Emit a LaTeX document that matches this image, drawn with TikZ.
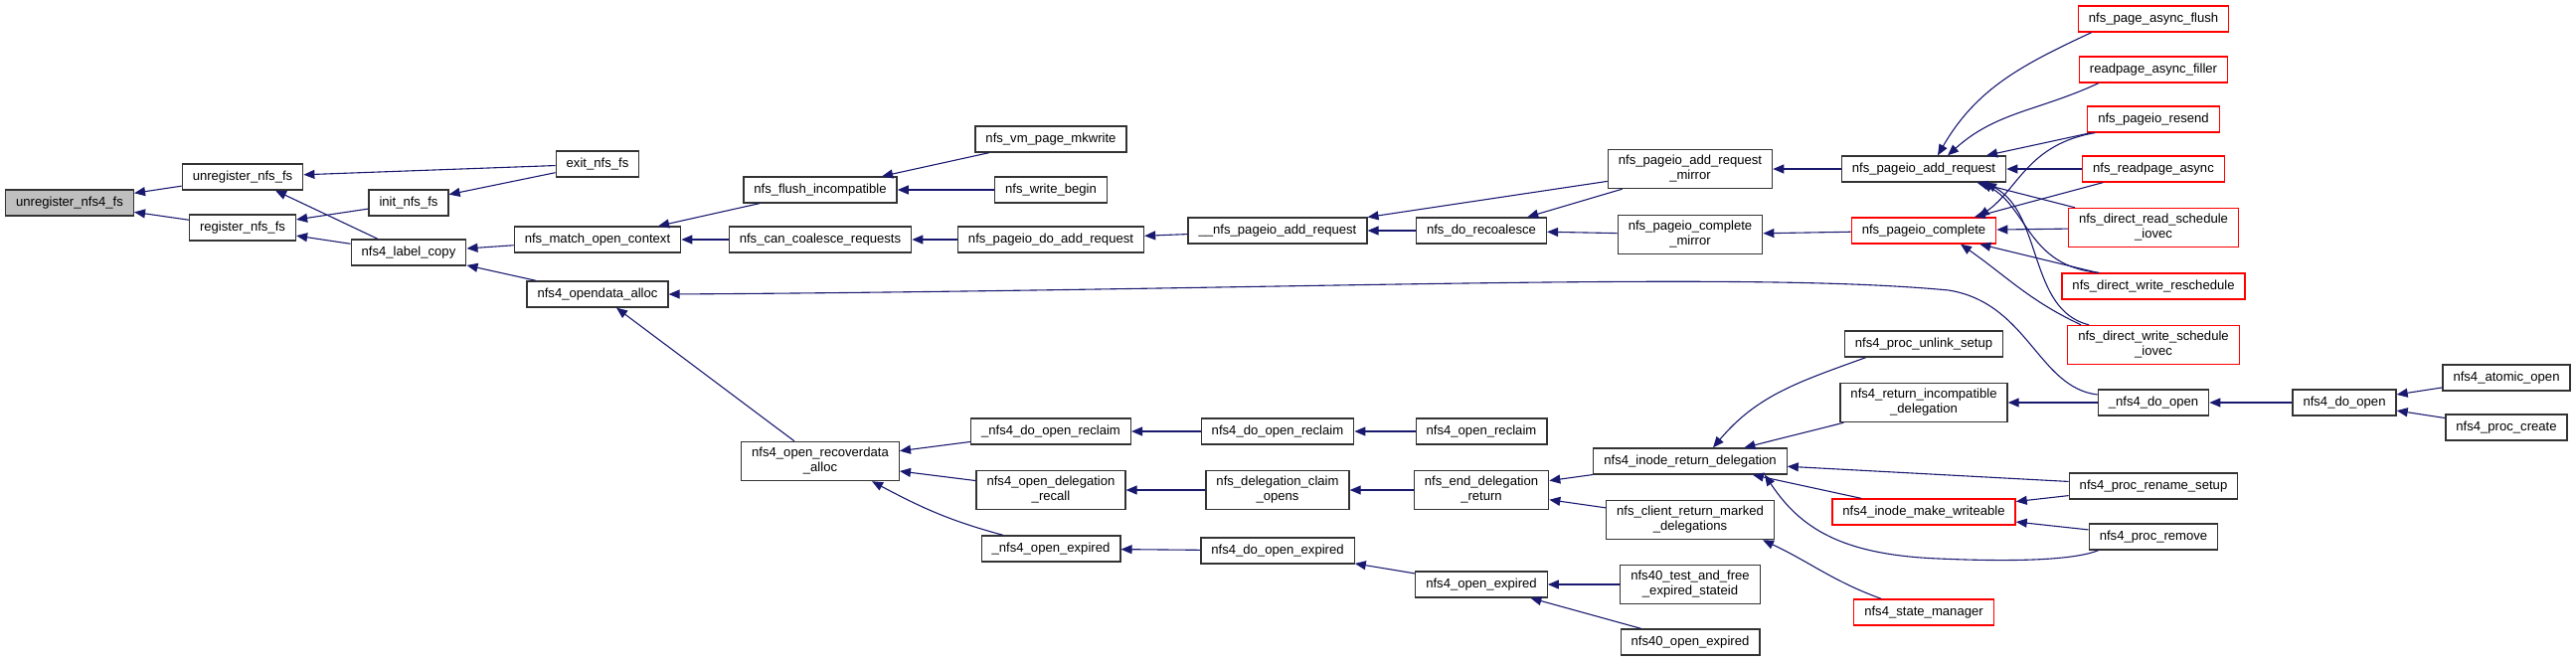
\documentclass[tikz,border=0pt]{standalone}
\usepackage{fontspec}
\setmainfont{Liberation Sans}
\usetikzlibrary{arrows.meta}
\definecolor{edgeblue}{HTML}{191970}
\definecolor{rootgray}{HTML}{BFBFBF}

\begin{document}
\begin{tikzpicture}[
  x=1pt, y=-1pt,
  font=\fontsize{13.1}{15}\selectfont,
  box/.style={draw=black!80, line width=1.3pt, align=center, inner xsep=10.5pt, inner ysep=6pt, minimum height=26pt},
  rootbox/.style={box, fill=rootgray},
  redbox/.style={box, draw=red},
  arrow/.style={{Triangle[length=11pt,width=9pt]}-, draw=edgeblue, line width=1.1pt}
]
\useasboundingbox (0,0) rectangle (2591,665);

% columns, left to right
\node[rootbox] (unregfour) at (70,204) {unregister\_nfs4\_fs};
\node[box] (unregfs) at (244,178) {unregister\_nfs\_fs};
\node[box] (regfs) at (244,229) {register\_nfs\_fs};
\node[box] (exitfs) at (601,165) {exit\_nfs\_fs};
\node[box] (initfs) at (411,204) {init\_nfs\_fs};
\node[box] (labelcopy) at (411,254) {nfs4\_label\_copy};
\node[box] (matchctx) at (601,241) {nfs\_match\_open\_context};
\node[box] (odalloc) at (601,296) {nfs4\_opendata\_alloc};
\node[box] (flushincomp) at (825,191) {nfs\_flush\_incompatible};
\node[box] (coalesce) at (825,241) {nfs\_can\_coalesce\_requests};
\node[box] (recoverdata) at (825,464) {nfs4\_open\_recoverdata\\\_alloc};
\node[box] (mkwrite) at (1057,140) {nfs\_vm\_page\_mkwrite};
\node[box] (writebegin) at (1057,191) {nfs\_write\_begin};
\node[box] (doadd) at (1057,241) {nfs\_pageio\_do\_add\_request};
\node[box] (reclaimu) at (1057,434) {\_nfs4\_do\_open\_reclaim};
\node[box] (delegrecall) at (1057,493) {nfs4\_open\_delegation\\\_recall};
\node[box] (expiredu) at (1057,552) {\_nfs4\_open\_expired};
\node[box] (pgaddu) at (1285,232) {\_\_nfs\_pageio\_add\_request};
\node[box] (doreclaim) at (1285,434) {nfs4\_do\_open\_reclaim};
\node[box] (claimopens) at (1285,493) {nfs\_delegation\_claim\\\_opens};
\node[box] (doexpired) at (1285,554) {nfs4\_do\_open\_expired};
\node[box] (recoalesce) at (1490,232) {nfs\_do\_recoalesce};
\node[box] (openreclaim) at (1490,434) {nfs4\_open\_reclaim};
\node[box] (enddeleg) at (1490,493) {nfs\_end\_delegation\\\_return};
\node[box] (openexpired) at (1490,588) {nfs4\_open\_expired};
\node[box] (addmirror) at (1700,170) {nfs\_pageio\_add\_request\\\_mirror};
\node[box] (compmirror) at (1700,236) {nfs\_pageio\_complete\\\_mirror};
\node[box] (inoderet) at (1700,464) {nfs4\_inode\_return\_delegation};
\node[box] (clientret) at (1700,523) {nfs\_client\_return\_marked\\\_delegations};
\node[box] (testfree) at (1700,588) {nfs40\_test\_and\_free\\\_expired\_stateid};
\node[box] (fortyexp) at (1700,646) {nfs40\_open\_expired};
\node[box] (pageioadd) at (1935,170) {nfs\_pageio\_add\_request};
\node[redbox] (pageiocomp) at (1935,232) {nfs\_pageio\_complete};
\node[box] (unlink) at (1935,346) {nfs4\_proc\_unlink\_setup};
\node[box] (retincomp) at (1935,405) {nfs4\_return\_incompatible\\\_delegation};
\node[redbox] (makewrite) at (1935,515) {nfs4\_inode\_make\_writeable};
\node[redbox] (statemgr) at (1935,616) {nfs4\_state\_manager};
\node[redbox] (asyncflush) at (2166,19) {nfs\_page\_async\_flush};
\node[redbox] (asyncfiller) at (2166,70) {readpage\_async\_filler};
\node[redbox] (resend) at (2166,120) {nfs\_pageio\_resend};
\node[redbox] (readasync) at (2166,170) {nfs\_readpage\_async};
\node[redbox] (readsched) at (2166,229) {nfs\_direct\_read\_schedule\\\_iovec};
\node[redbox] (writeresched) at (2166,288) {nfs\_direct\_write\_reschedule};
\node[redbox] (writesched) at (2166,347) {nfs\_direct\_write\_schedule\\\_iovec};
\node[box] (doopenu) at (2166,405) {\_nfs4\_do\_open};
\node[box] (rename) at (2166,489) {nfs4\_proc\_rename\_setup};
\node[box] (remove) at (2166,540) {nfs4\_proc\_remove};
\node[box] (doopen) at (2358,405) {nfs4\_do\_open};
\node[box] (atomicopen) at (2521,380) {nfs4\_atomic\_open};
\node[box] (proccreate) at (2521,430) {nfs4\_proc\_create};

% callers -> callees (arrow at the callee)
\draw[arrow] (unregfour) -- (unregfs);
\draw[arrow] (unregfour) -- (regfs);
\draw[arrow] (unregfs) -- (exitfs);
\draw[arrow] ([xshift=33pt]unregfs.south) -- ([xshift=-31pt]labelcopy.north);
\draw[arrow] (regfs) -- (initfs);
\draw[arrow] (regfs) -- (labelcopy);
\draw[arrow] (initfs) -- (exitfs);
\draw[arrow] (labelcopy) -- (matchctx);
\draw[arrow] (labelcopy) -- (odalloc);
\draw[arrow] (matchctx) -- (flushincomp);
\draw[arrow] (matchctx) -- (coalesce);
\draw[arrow] (flushincomp) -- (mkwrite);
\draw[arrow] (flushincomp) -- (writebegin);
\draw[arrow] (coalesce) -- (doadd);
\draw[arrow] (doadd) -- (pgaddu);
\draw[arrow] (pgaddu) -- (recoalesce);
\draw[arrow] (pgaddu) -- (addmirror);
\draw[arrow] (recoalesce) -- (addmirror);
\draw[arrow] (recoalesce) -- (compmirror);
\draw[arrow] (addmirror) -- (pageioadd);
\draw[arrow] (compmirror) -- (pageiocomp);
\draw[arrow] ([xshift=14pt]pageioadd.north) to[out=60,in=205] ([xshift=14pt]asyncflush.south west);
\draw[arrow] ([xshift=24pt]pageioadd.north) to[out=42,in=205] ([xshift=20pt]asyncfiller.south west);
\draw[arrow] (pageioadd) -- (resend);
\draw[arrow] (pageioadd) -- (readasync);
\draw[arrow] (pageioadd) -- (readsched);
\draw[arrow] ([xshift=58pt]pageioadd.south) .. controls (2040,210) and (2040,268) .. ([xshift=38pt]writeresched.north west);
\draw[arrow] ([xshift=62pt]pageioadd.south) .. controls (2055,215) and (2040,312) .. ([xshift=22pt]writesched.north west);
\draw[arrow] ([xshift=55pt]pageiocomp.north) .. controls (2030,190) and (2040,145) .. ([xshift=8pt]resend.south west);
\draw[arrow] (pageiocomp) -- (readasync);
\draw[arrow] (pageiocomp) -- (readsched);
\draw[arrow] (pageiocomp) -- (writeresched);
\draw[arrow] ([xshift=37pt]pageiocomp.south) to[out=-35,in=155] ([xshift=14pt]writesched.north west);
\draw[arrow] (odalloc.east) .. controls (1300,292) and (1750,272) .. (1960,292) .. controls (2040,305) and (2050,390) .. ([yshift=8pt]doopenu.west);
\draw[arrow] ([xshift=19pt]odalloc.south) -- ([xshift=-26pt]recoverdata.north);
\draw[arrow] (recoverdata) -- (reclaimu);
\draw[arrow] (recoverdata) -- (delegrecall);
\draw[arrow] ([xshift=52pt]recoverdata.south) to[out=-28,in=165] ([xshift=-48pt]expiredu.north);
\draw[arrow] (reclaimu) -- (doreclaim);
\draw[arrow] (doreclaim) -- (openreclaim);
\draw[arrow] (delegrecall) -- (claimopens);
\draw[arrow] (claimopens) -- (enddeleg);
\draw[arrow] (expiredu) -- (doexpired);
\draw[arrow] (doexpired) -- (openexpired);
\draw[arrow] (enddeleg) -- (inoderet);
\draw[arrow] (enddeleg) -- (clientret);
\draw[arrow] (openexpired) -- (testfree);
\draw[arrow] (openexpired) -- (fortyexp);
\draw[arrow] ([xshift=23pt]inoderet.north) to[out=50,in=200] ([xshift=22pt]unlink.south west);
\draw[arrow] (inoderet) -- (retincomp);
\draw[arrow] (inoderet) -- (rename);
\draw[arrow] (inoderet) -- (makewrite);
\draw[arrow] ([xshift=75pt]inoderet.south) .. controls (1810,530) and (1850,558) .. (1950,562) .. controls (2040,566) and (2090,562) .. ([xshift=10pt]remove.south west);
\draw[arrow] ([xshift=73pt]clientret.south) to[out=-25,in=160] ([xshift=28pt]statemgr.north west);
\draw[arrow] (retincomp) -- (doopenu);
\draw[arrow] (doopenu) -- (doopen);
\draw[arrow] (doopen) -- (atomicopen);
\draw[arrow] (doopen) -- (proccreate);
\draw[arrow] (makewrite) -- (rename);
\draw[arrow] (makewrite) -- (remove);
\end{tikzpicture}
\end{document}
